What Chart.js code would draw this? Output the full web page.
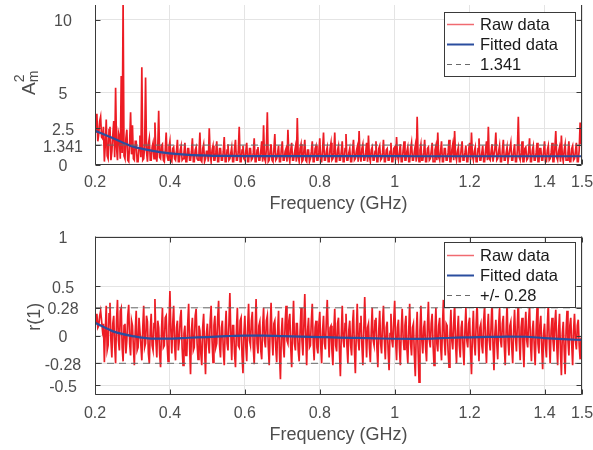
<!DOCTYPE html>
<html>
<head>
<meta charset="utf-8">
<script src="https://cdn.jsdelivr.net/npm/chart.js@4.4.1/dist/chart.umd.min.js"></script>
<style>
  html, body { margin: 0; padding: 0; background: #fff; }
  #wrap { position: relative; width: 593px; height: 450px; }
  canvas { position: absolute; left: 0; }
</style>
</head>
<body>
<div id="wrap">
  <canvas id="ampChart" width="593" height="225" style="top:0"></canvas>
  <canvas id="corrChart" width="593" height="225" style="top:225px"></canvas>
</div>
<script>
// frequency grid of the raw samples (GHz)
const fStart = 0.2
const fStep = 0.0025

// A_m^2 raw data, one value per fStep (each row = 0.025 GHz)
const rawAmp = [
  2.9, 2.2, 3.5, 1.6, 2.1, 3.0, 3.3, 1.9, 1.8, 2.6,
  0.2, 1.4, 3.1, 0.6, 0.4, 2.4, 2.6, 0.3, 0.9, 2.0,
  3.0, 0.5, 5.3, 1.2, 0.3, 2.2, 1.9, 0.4, 6.1, 0.8,
  11.2, 0.6, 0.4, 1.8, 2.4, 0.3, 0.2, 1.5, 3.6, 0.7,
  2.7, 0.4, 0.3, 1.6, 1.6, 0.2, 0.2, 1.1, 2.0, 0.5,
  6.7, 0.3, 0.4, 1.3, 6.0, 0.9, 0.2, 1.4, 1.8, 0.3,
  0.3, 1.2, 1.5, 0.4, 2.9, 0.7, 0.2, 1.1, 3.7, 0.5,
  0.4, 1.3, 1.4, 0.3, 0.2, 1.0, 2.2, 0.6, 0.3, 1.2,
  1.6, 0.3, 0.2, 1.1, 1.2, 0.4, 0.3, 0.9, 1.7, 0.2,
  0.2, 1.0, 1.3, 0.3, 0.4, 0.8, 1.5, 0.2, 0.2, 1.1,
  1.1, 0.3, 0.3, 0.9, 1.8, 0.2, 0.2, 1.0, 1.2, 0.4,
  0.3, 0.8, 2.2, 0.3, 0.2, 1.1, 1.4, 0.2, 0.4, 0.9,
  0.9, 0.2, 2.5, 0.7, 0.2, 1.0, 1.3, 0.3, 0.3, 0.8,
  1.6, 0.2, 0.2, 1.1, 1.1, 0.3, 0.3, 0.9, 1.9, 0.2,
  0.2, 1.0, 1.4, 0.3, 0.4, 0.8, 1.2, 0.2, 0.2, 1.1,
  1.7, 0.3, 0.3, 0.9, 2.6, 0.2, 0.2, 1.0, 1.3, 0.4,
  0.3, 0.9, 1.5, 0.2, 0.2, 1.1, 1.1, 0.3, 0.4, 0.8,
  1.8, 0.2, 0.2, 1.0, 1.2, 0.3, 0.3, 0.9, 1.6, 0.2,
  2.7, 0.4, 0.2, 1.1, 3.6, 0.2, 0.3, 0.9, 1.4, 0.3,
  0.2, 1.0, 2.1, 0.3, 0.4, 0.8, 1.3, 0.2, 0.2, 1.1,
  1.6, 0.3, 0.3, 0.9, 1.1, 0.2, 2.4, 0.6, 0.2, 1.0,
  1.5, 0.3, 0.3, 0.8, 1.2, 0.2, 3.2, 0.5, 0.2, 1.1,
  1.4, 0.2, 0.3, 0.9, 1.7, 0.3, 0.2, 1.0, 1.0, 0.2,
  0.4, 0.9, 1.6, 0.2, 0.2, 1.1, 1.3, 0.3, 0.3, 0.8,
  1.8, 0.2, 0.2, 1.0, 2.2, 0.3, 0.3, 0.9, 1.2, 0.2,
  0.2, 1.1, 1.5, 0.3, 0.4, 0.8, 2.2, 0.2, 0.2, 1.0,
  1.3, 0.3, 0.3, 0.9, 1.6, 0.2, 0.2, 1.1, 2.1, 0.3,
  0.3, 0.8, 1.1, 0.2, 0.2, 1.0, 1.7, 0.3, 0.4, 0.9,
  1.2, 0.2, 2.3, 0.6, 0.2, 1.1, 1.4, 0.3, 0.3, 0.8,
  1.5, 0.2, 2.0, 0.5, 0.2, 1.0, 1.2, 0.3, 0.3, 0.9,
  1.6, 0.2, 0.2, 1.1, 1.3, 0.3, 0.4, 0.8, 1.7, 0.2,
  0.2, 1.0, 1.1, 0.3, 0.3, 0.9, 1.5, 0.2, 0.2, 1.1,
  1.2, 0.3, 1.9, 0.6, 0.3, 0.8, 1.4, 0.2, 0.2, 1.0,
  1.6, 0.3, 0.3, 0.9, 1.2, 0.2, 0.2, 1.1, 1.5, 0.3,
  0.3, 0.9, 1.3, 0.2, 3.3, 0.6, 0.2, 1.0, 1.4, 0.3,
  0.3, 0.8, 1.7, 0.2, 0.2, 1.1, 1.2, 0.3, 0.4, 0.9,
  1.5, 0.2, 0.2, 1.0, 1.3, 0.3, 2.2, 0.5, 0.3, 0.9,
  1.6, 0.2, 0.2, 1.1, 1.1, 0.3, 0.3, 0.8, 1.7, 0.2,
  0.2, 1.0, 1.4, 0.3, 2.3, 0.6, 0.3, 0.9, 1.2, 0.2,
  0.2, 1.1, 1.6, 0.3, 0.4, 0.8, 1.3, 0.2, 0.2, 1.0,
  1.5, 0.3, 2.2, 0.6, 0.3, 0.9, 1.2, 0.2, 0.2, 1.1,
  1.8, 0.3, 0.3, 0.8, 1.3, 0.2, 0.2, 1.0, 1.6, 0.3,
  2.6, 0.4, 0.3, 0.9, 1.4, 0.2, 0.2, 1.1, 2.2, 0.3,
  0.4, 0.9, 1.3, 0.2, 0.2, 1.0, 1.7, 0.3, 0.3, 0.8,
  1.2, 0.2, 0.2, 1.1, 1.5, 0.3, 0.3, 0.9, 1.4, 0.2,
  0.2, 1.0, 3.3, 0.5, 0.3, 0.8, 1.6, 0.2, 0.2, 1.1,
  1.2, 0.3, 0.4, 0.9, 1.8, 0.2, 0.2, 1.0, 1.3, 0.3,
  0.3, 0.8, 1.5, 0.2, 0.2, 1.1, 1.1, 0.3, 0.3, 0.9,
  1.6, 0.2, 0.2, 1.0, 1.3, 0.3, 0.4, 0.8, 1.5, 0.2,
  0.2, 1.1, 2.3, 0.5, 0.3, 0.9, 1.2, 0.2, 2.0, 0.6,
  0.2, 1.0, 1.4, 0.3, 0.3, 0.8, 1.6, 0.2, 0.2, 1.1,
  1.3, 0.3, 0.4, 0.9, 1.5, 0.2, 0.2, 1.0, 2.9, 1.4,
  2.8
]

// r(1) raw data, one value per fStep (each row = 0.025 GHz)
const rawCorr = [
  0.18, 0.12, 0.22, 0.08, 0.10, 0.20, 0.25, 0.15, 0.05, 0.12,
  -0.27, 0.05, 0.30, -0.15, -0.10, 0.22, 0.33, -0.05, -0.22, 0.12,
  0.20, -0.10, -0.28, 0.15, 0.36, -0.05, -0.15, 0.25, 0.28, -0.12,
  -0.26, 0.10, 0.12, -0.18, -0.05, 0.20, 0.31, -0.08, -0.20, 0.15,
  0.10, -0.12, -0.30, 0.05, 0.25, -0.15, -0.12, 0.18, 0.18, -0.10,
  -0.25, 0.08, 0.30, -0.12, -0.08, 0.20, 0.14, -0.18, -0.28, 0.05,
  0.22, -0.10, -0.15, 0.12, 0.37, -0.05, -0.22, 0.15, 0.08, -0.18,
  -0.32, 0.05, 0.28, -0.12, -0.10, 0.18, 0.20, -0.08, -0.26, 0.10,
  0.45, 0.05, -0.18, 0.12, 0.30, -0.10, -0.25, 0.08, 0.15, -0.15,
  -0.05, 0.18, 0.26, -0.12, -0.30, 0.02, 0.10, -0.20, -0.20, 0.12,
  0.32, -0.10, -0.39, 0.05, 0.18, -0.15, -0.12, 0.20, 0.27, -0.08,
  -0.24, 0.10, 0.05, -0.18, -0.30, 0.08, 0.22, -0.12, -0.39, 0.02,
  0.12, -0.08, -0.18, 0.15, 0.30, -0.05, -0.27, 0.10, 0.20, -0.12,
  -0.08, 0.18, 0.35, -0.10, -0.22, 0.08, 0.15, -0.15, -0.30, 0.05,
  0.25, -0.08, -0.15, 0.12, 0.43, 0.02, -0.25, 0.10, 0.10, -0.18,
  -0.32, 0.05, 0.28, -0.10, -0.12, 0.15, 0.18, -0.20, -0.38, 0.02,
  0.20, -0.10, -0.26, 0.08, 0.32, -0.05, -0.10, 0.15, 0.24, -0.12,
  -0.29, 0.05, 0.37, -0.08, -0.18, 0.10, 0.14, -0.15, -0.24, 0.08,
  0.28, -0.05, -0.12, 0.15, 0.20, -0.10, -0.30, 0.05, 0.33, -0.02,
  -0.20, 0.12, 0.15, -0.12, -0.27, 0.05, 0.25, -0.18, -0.44, 0.02,
  0.18, -0.10, -0.22, 0.12, 0.30, -0.05, -0.08, 0.15, 0.22, -0.12,
  -0.32, 0.05, 0.35, -0.08, -0.15, 0.12, 0.12, -0.15, -0.26, 0.05,
  0.28, -0.05, -0.20, 0.10, 0.42, 0.02, -0.30, 0.05, 0.18, -0.12,
  -0.10, 0.15, 0.32, -0.08, -0.25, 0.08, 0.15, -0.12, -0.18, 0.10,
  0.24, -0.10, -0.28, 0.05, 0.20, -0.08, -0.14, 0.15, 0.36, 0.02,
  -0.22, 0.08, 0.10, -0.15, -0.30, 0.05, 0.27, -0.10, -0.16, 0.12,
  0.18, -0.15, -0.41, 0.02, 0.30, -0.05, -0.12, 0.12, 0.22, -0.10,
  -0.28, 0.05, 0.15, -0.10, -0.20, 0.12, 0.26, -0.15, -0.38, 0.02,
  0.32, -0.05, -0.15, 0.12, 0.20, -0.10, -0.30, 0.05, 0.39, 0.05,
  -0.22, 0.08, 0.12, -0.12, -0.27, 0.05, 0.28, -0.05, -0.10, 0.15,
  0.18, -0.12, -0.32, 0.05, 0.25, -0.08, -0.18, 0.12, 0.30, -0.05,
  -0.24, 0.08, 0.14, -0.15, -0.35, 0.02, 0.22, -0.05, -0.12, 0.15,
  0.35, -0.05, -0.25, 0.08, 0.16, -0.12, -0.30, 0.05, 0.27, -0.02,
  -0.14, 0.10, 0.20, -0.12, -0.28, 0.05, 0.32, -0.08, -0.20, 0.08,
  0.12, -0.20, -0.41, 0.02, 0.24, -0.15, -0.47, 0.05, 0.30, -0.05,
  -0.18, 0.08, 0.15, -0.12, -0.26, 0.10, 0.34, -0.05, -0.12, 0.12,
  0.22, -0.10, -0.30, 0.05, 0.28, -0.08, -0.16, 0.10, 0.18, -0.10,
  -0.25, 0.08, 0.36, -0.05, -0.20, 0.12, 0.10, -0.15, -0.32, 0.02,
  0.26, -0.05, -0.14, 0.12, 0.32, -0.08, -0.28, 0.05, 0.20, -0.10,
  -0.22, 0.08, 0.15, -0.12, -0.30, 0.05, 0.28, -0.05, -0.12, 0.12,
  0.18, -0.15, -0.39, 0.02, 0.25, -0.08, -0.20, 0.12, 0.34, -0.02,
  -0.26, 0.08, 0.12, -0.10, -0.18, 0.15, 0.30, -0.08, -0.28, 0.05,
  0.22, -0.05, -0.15, 0.12, 0.36, -0.10, -0.35, 0.02, 0.16, -0.08,
  -0.24, 0.10, 0.28, -0.05, -0.12, 0.12, 0.20, -0.10, -0.30, 0.05,
  0.33, -0.05, -0.20, 0.10, 0.14, -0.12, -0.28, 0.05, 0.26, -0.02,
  -0.16, 0.12, 0.38, -0.05, -0.25, 0.08, 0.18, -0.10, -0.32, 0.05,
  0.24, -0.05, -0.12, 0.15, 0.30, -0.08, -0.26, 0.05, 0.15, -0.10,
  -0.30, 0.05, 0.28, -0.08, -0.18, 0.10, 0.20, -0.12, -0.34, 0.02,
  0.12, -0.10, -0.22, 0.10, 0.32, -0.05, -0.28, 0.05, 0.18, -0.05,
  -0.16, 0.12, 0.26, -0.08, -0.30, 0.05, 0.22, -0.15, -0.40, 0.02,
  0.14, -0.15, -0.39, 0.05, 0.25, -0.05, -0.20, 0.10, 0.18, -0.08,
  -0.30, 0.05, 0.22, -0.05, -0.14, 0.10, 0.16, -0.10, -0.24, -0.02,
  -0.10
]

// fitted curves
const fitFreq = [0.2, 0.25, 0.3, 0.35, 0.4, 0.45, 0.5, 0.55, 0.6, 0.65, 0.7, 0.75, 0.8, 0.85,
  0.9, 0.95, 1.0, 1.05, 1.1, 1.15, 1.2, 1.25, 1.3, 1.35, 1.4, 1.45, 1.5]
const fitAmp = [2.33, 1.80, 1.25, 0.96, 0.77, 0.66, 0.61, 0.59, 0.58, 0.58, 0.58, 0.58, 0.58, 0.58,
  0.58, 0.58, 0.58, 0.57, 0.57, 0.57, 0.57, 0.57, 0.57, 0.57, 0.57, 0.57, 0.57]
const fitCorr = [0.13, 0.04, -0.005, -0.03, -0.03, -0.022, -0.015, -0.006, 0.0, 0.0, -0.005, -0.01, -0.015, -0.02,
  -0.024, -0.028, -0.032, -0.033, -0.03, -0.022, -0.018, -0.014, -0.01, -0.012, -0.025, -0.036, -0.045]

const ampThreshold = 1.341
const corrThreshold = 0.28

const xTicks = [0.2, 0.4, 0.6, 0.8, 1, 1.2, 1.4, 1.5]
const xTickLabels = ["0.2", "0.4", "0.6", "0.8", "1", "1.2", "1.4", "1.5"]
const ampTicks = [0, 1.341, 2.5, 5, 10]
const ampTickLabels = ["0", "1.341", "2.5", "5", "10"]
const corrTicks = [-0.5, -0.28, 0, 0.28, 0.5, 1]
const corrTickLabels = ["-0.5", "-0.28", "0", "0.28", "0.5", "1"]

const RED = "#ed1c24"
const BLUE = "#2a4d9e"
const DASH = "#6a6a6a"
const AXIS = "#3a3a3a"
const TEXT = "#4d4d4d"
const GRID = "#e4e4e4"
const FONT = '"Liberation Sans", Arial, Helvetica, sans-serif'

const rawPoints = (vals) => vals.map((v, i) => ({ x: +(fStart + i * fStep).toFixed(4), y: v }))
const fitPoints = (vals) => vals.map((v, i) => ({ x: fitFreq[i], y: v }))
const hLine = (v) => [{ x: fStart, y: v }, { x: xTicks[xTicks.length - 1], y: v }]

// per-canvas frame settings, kept outside the chart options
const frames = {}

// MATLAB-like frame: box, inward ticks, tick labels, titles and legend
const matlabFrame = {
  id: "matlabFrame",
  afterDraw(chart) {
    const o = frames[chart.canvas.id]
    const { ctx, chartArea: a, scales: { x, y } } = chart
    const L = Math.round(a.left) + 0.5, R = Math.round(a.right) - 0.5
    const T = Math.round(a.top) + 0.5, B = Math.round(a.bottom) - 0.5
    ctx.save()
    ctx.strokeStyle = AXIS
    ctx.lineWidth = 1
    ctx.beginPath()
    if (o.topBorder) {
      ctx.moveTo(L, T); ctx.lineTo(R, T)
    }
    ctx.moveTo(L, a.top); ctx.lineTo(L, B); ctx.lineTo(R, B); ctx.lineTo(R, a.top)
    ctx.stroke()

    // inward tick marks
    ctx.beginPath()
    o.yTicks.forEach((v) => {
      const py = Math.round(y.getPixelForValue(v)) + 0.5
      ctx.moveTo(L, py); ctx.lineTo(L + 5, py)
      ctx.moveTo(R, py); ctx.lineTo(R - 5, py)
    })
    xTicks.forEach((v) => {
      const px = Math.round(x.getPixelForValue(v)) + 0.5
      ctx.moveTo(px, B); ctx.lineTo(px, B - 5)
      if (o.topBorder) { ctx.moveTo(px, T); ctx.lineTo(px, T + 5) }
    })
    ctx.stroke()

    // tick labels
    ctx.fillStyle = TEXT
    ctx.font = "16px " + FONT
    ctx.textAlign = "center"
    ctx.textBaseline = "alphabetic"
    o.yTicks.forEach((v, i) => {
      ctx.fillText(o.yLabels[i], 63, y.getPixelForValue(v) + 6.5)
    })
    xTicks.forEach((v, i) => {
      ctx.fillText(xTickLabels[i], x.getPixelForValue(v), o.xLabelBase)
    })

    // x title
    ctx.font = "18px " + FONT
    ctx.fillText("Frequency (GHz)", (a.left + a.right) / 2, o.xTitleBase)

    // y title, rotated; parts with stack=true sit over the previous part
    ctx.save()
    ctx.translate(o.yTitle.x, (a.top + a.bottom) / 2 + o.yTitle.dy)
    ctx.rotate(-Math.PI / 2)
    ctx.textAlign = "left"
    const parts = o.yTitle.parts
    const widths = parts.map((p) => {
      ctx.font = p.size + "px " + FONT
      return ctx.measureText(p.text).width
    })
    let total = 0
    parts.forEach((p, i) => { if (!p.stack) total += widths[i] })
    let cx = -total / 2, prev = 0
    parts.forEach((p, i) => {
      ctx.font = p.size + "px " + FONT
      ctx.fillStyle = TEXT
      const px = p.stack ? cx - prev : cx
      ctx.fillText(p.text, px, p.shift || 0)
      if (!p.stack) { cx += widths[i]; prev = widths[i] }
    })
    ctx.restore()

    // legend
    const g = o.legend
    ctx.fillStyle = "#fff"
    ctx.fillRect(g.x, g.y, g.w, g.h)
    ctx.strokeStyle = AXIS
    ctx.lineWidth = 1
    ctx.strokeRect(g.x + 0.5, g.y + 0.5, g.w, g.h)
    g.items.forEach((it, i) => {
      const ly = g.y + g.first + i * g.step
      ctx.beginPath()
      ctx.strokeStyle = it.color
      ctx.lineWidth = it.width
      ctx.setLineDash(it.dash || [])
      ctx.moveTo(g.x + 3, ly + 0.5); ctx.lineTo(g.x + 30, ly + 0.5)
      ctx.stroke()
      ctx.setLineDash([])
      ctx.fillStyle = "#1a1a1a"
      ctx.font = "16.5px " + FONT
      ctx.textAlign = "left"
      ctx.textBaseline = "middle"
      ctx.fillText(it.label, g.x + 36, ly + 1)
    })
    ctx.restore()
  }
}

function makeChart(id, cfg) {
  frames[id] = cfg.frame
  return new Chart(document.getElementById(id), {
    type: "line",
    data: { datasets: cfg.datasets },
    options: {
      responsive: false,
      animation: false,
      events: [],
      layout: { padding: { top: cfg.padTop, right: 11, left: 0, bottom: 0 } },
      elements: { point: { radius: 0 }, line: { tension: 0 } },
      scales: {
        x: {
          type: "linear",
          min: 0.2,
          max: 1.5,
          ticks: { display: false },
          grid: { color: GRID, drawTicks: false },
          border: { display: false },
          afterBuildTicks: (s) => { s.ticks = xTicks.map((v) => ({ value: v })) },
          afterFit: (s) => { s.height = cfg.xHeight }
        },
        y: {
          type: "linear",
          min: cfg.yMin,
          max: cfg.yMax,
          ticks: { display: false },
          grid: { color: GRID, drawTicks: false },
          border: { display: false },
          afterBuildTicks: (s) => { s.ticks = cfg.yTicks.map((v) => ({ value: v })) },
          afterFit: (s) => { s.width = 95 }
        }
      },
      plugins: {
        legend: { display: false },
        tooltip: { enabled: false }
      }
    },
    plugins: [matlabFrame]
  })
}

makeChart("ampChart", {
  padTop: 5,
  xHeight: 60.5,
  yMin: 0,
  yMax: 11,
  yTicks: ampTicks,
  datasets: [
    { label: "Raw data", data: rawPoints(rawAmp), borderColor: RED, borderWidth: 1.7, order: 3 },
    { label: "Fitted data", data: fitPoints(fitAmp), borderColor: BLUE, borderWidth: 2.2, cubicInterpolationMode: "monotone", order: 2 },
    { label: "1.341", data: hLine(ampThreshold), borderColor: DASH, borderWidth: 1, borderDash: [7, 5], order: 1 }
  ],
  frame: {
    topBorder: false,
    yTicks: ampTicks,
    yLabels: ampTickLabels,
    xLabelBase: 187,
    xTitleBase: 209,
    yTitle: {
      x: 35, dy: -2,
      parts: [
        { text: "A", size: 19 },
        { text: "m", size: 14, shift: 3 },
        { text: "2", size: 14, shift: -11, stack: true }
      ]
    },
    legend: {
      x: 444, y: 12, w: 131, h: 64, first: 12, step: 20,
      items: [
        { label: "Raw data", color: "#f06a70", width: 1.5 },
        { label: "Fitted data", color: BLUE, width: 2 },
        { label: "1.341", color: DASH, width: 1, dash: [5, 4] }
      ]
    }
  }
})

makeChart("corrChart", {
  padTop: 11.5,
  xHeight: 55,
  yMin: -0.6,
  yMax: 1,
  yTicks: corrTicks,
  datasets: [
    { label: "Raw data", data: rawPoints(rawCorr), borderColor: RED, borderWidth: 1.7, order: 3 },
    { label: "Fitted data", data: fitPoints(fitCorr), borderColor: BLUE, borderWidth: 2.2, cubicInterpolationMode: "monotone", order: 2 },
    { label: "+/- 0.28", data: hLine(corrThreshold), borderColor: DASH, borderWidth: 1, borderDash: [7, 5], order: 1 },
    { label: "-0.28", data: hLine(-corrThreshold), borderColor: DASH, borderWidth: 1, borderDash: [7, 5], order: 1 }
  ],
  frame: {
    topBorder: true,
    yTicks: corrTicks,
    yLabels: corrTickLabels,
    xLabelBase: 192.5,
    xTitleBase: 215,
    yTitle: {
      x: 40, dy: 1,
      parts: [{ text: "r(1)", size: 18 }]
    },
    legend: {
      x: 444, y: 17, w: 131, h: 65, first: 13, step: 20,
      items: [
        { label: "Raw data", color: "#f06a70", width: 1.5 },
        { label: "Fitted data", color: BLUE, width: 2 },
        { label: "+/- 0.28", color: DASH, width: 1, dash: [5, 4] }
      ]
    }
  }
})
</script>
</body>
</html>
